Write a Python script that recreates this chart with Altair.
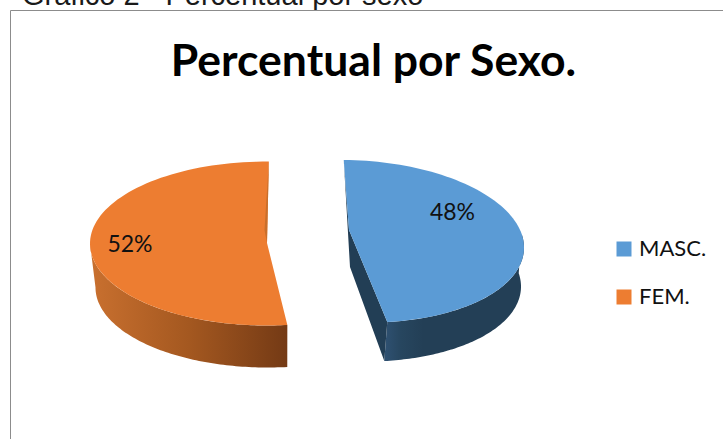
import math
import altair as alt

# Chart content
categories = ["MASC.", "FEM."]
shares = [48, 52]
top_colors = ["#5B9BD5", "#ED7D31"]
chart_title = "Percentual por Sexo."
caption = "Gráfico 2 - Percentual por sexo"

W, H = 723, 439
START_ANGLE = 0.6


def ellipse_point(t, cx, cy, rx, ry, shear=0.0):
    """Point on a tilted pie rim; t is in degrees, clockwise from the top."""
    a = math.radians(t)
    dy = -ry * math.cos(a)
    return [cx + rx * math.sin(a) + shear * dy, cy + dy]


def arc(t0, t1, rim, n=90):
    return [ellipse_point(t0 + (t1 - t0) * i / n, *rim) for i in range(n + 1)]


def feature(points, sex=None):
    ring = points + [points[0]]
    return {
        "type": "Feature",
        "properties": {"sex": sex},
        "geometry": {"type": "Polygon", "coordinates": [ring]},
    }


# Slice spans follow the shares
masc_t0 = START_ANGLE
masc_t1 = masc_t0 + shares[0] * 3.6
fem_t0 = masc_t1
fem_t1 = fem_t0 + shares[1] * 3.6

# Rim ellipses of both exploded slices, upper face and lower edge
masc_top = (355, 241.3, 168.5, 81.3, 0.16)
masc_low = (352, 280.3, 168.5, 81.3, 0.16)
fem_top = (267, 243.5, 177, 82, 0.0)
fem_low = (267.5, 287.5, 172, 80, 0.0)

MASC_APEX = [349, 230]
FEM_APEX = [267, 243]


def gradient(x1, x2, stops):
    return alt.LinearGradient(
        gradient="linear",
        x1=x1, x2=x2, y1=0, y2=0,
        stops=[alt.GradientStop(offset=o, color=c) for o, c in stops],
    )


def shape(features, fill):
    return (
        alt.Chart(alt.Data(values=features))
        .mark_geoshape(fill=fill, strokeWidth=0)
        .project(type="identity", scale=1, translate=[0, 0])
    )


# Curved outer walls
masc_wall = shape(
    [feature(arc(85, masc_t1, masc_top) + arc(masc_t1, 85, masc_low))],
    gradient(1, 0, [(0, "#233F56"), (0.72, "#233F56"), (0.88, "#27465F"), (1, "#2F5172")]),
)
fem_wall = shape(
    [feature(arc(270, fem_t0, fem_top) + arc(fem_t0, 270, fem_low))],
    gradient(0, 1, [(0, "#C9702F"), (0.5, "#A45820"), (1, "#743A15")]),
)

# Inner cut faces that stay visible beside the upper faces
masc_cut = shape(
    [feature([
        ellipse_point(masc_t0, *masc_top),
        MASC_APEX,
        ellipse_point(masc_t1, *masc_top),
        ellipse_point(masc_t1, *masc_low),
        [350, 267],
    ])],
    "#223E55",
)
fem_cut = shape(
    [feature([ellipse_point(fem_t1, *fem_top), FEM_APEX, [264.5, 230]])],
    "#C96F2B",
)

# Upper faces carry the colour legend
faces = [
    feature([MASC_APEX] + arc(masc_t0, masc_t1, masc_top), categories[0]),
    feature([FEM_APEX] + arc(fem_t0, fem_t1, fem_top), categories[1]),
]
upper = (
    alt.Chart(alt.Data(values=faces))
    .mark_geoshape(strokeWidth=0)
    .project(type="identity", scale=1, translate=[0, 0])
    .encode(
        color=alt.Color(
            "properties.sex:N",
            scale=alt.Scale(domain=categories, range=top_colors),
            legend=alt.Legend(
                title=None,
                orient="none",
                legendX=613,
                legendY=238,
                symbolType="square",
                symbolSize=225,
                symbolStrokeWidth=0,
                labelFont="Lato",
                labelFontSize=22,
                labelColor="#111111",
                labelOffset=4,
                rowPadding=26,
                labelLimit=120,
            ),
        )
    )
)

x_scale = alt.Scale(domain=[0, W], nice=False, zero=False)
y_scale = alt.Scale(domain=[0, H], nice=False, zero=False, reverse=True)


def text_layer(rows, **mark):
    return (
        alt.Chart(alt.Data(values=rows))
        .mark_text(**mark)
        .encode(
            x=alt.X("x:Q", scale=x_scale, axis=None),
            y=alt.Y("y:Q", scale=y_scale, axis=None),
            text="label:N",
        )
    )


# Value labels are written from the shares
percent_labels = text_layer(
    [
        {"x": 452.5, "y": 220, "label": f"{shares[0]}%"},
        {"x": 130, "y": 252, "label": f"{shares[1]}%"},
    ],
    font="Lato", fontSize=23, color="#111111", align="center", baseline="alphabetic",
)
caption_text = text_layer(
    [{"x": 22, "y": 5, "label": caption}],
    font="Liberation Sans", fontSize=29, color="#1A1A1A", align="left", baseline="alphabetic",
)
title_text = text_layer(
    [{"x": 373.5, "y": 76, "label": chart_title}],
    font="Lato", fontSize=44.5, fontWeight="bold", color="#000000", align="center", baseline="alphabetic",
)

# Chart frame, white so the caption's descenders stop at its edge
frame_bg = (
    alt.Chart(alt.Data(values=[{"a": 0}]))
    .mark_rect(color="white", stroke="#8C8C8C", strokeWidth=1)
    .encode(x=alt.value(10.5), x2=alt.value(W + 5), y=alt.value(10.5), y2=alt.value(H + 5))
)

chart = (
    alt.layer(
        caption_text,
        frame_bg,
        masc_wall,
        fem_wall,
        masc_cut,
        upper,
        fem_cut,
        percent_labels,
        title_text,
    )
    .properties(
        width=W,
        height=H,
        padding=0,
        autosize=alt.AutoSizeParams(type="none"),
        background="white",
    )
    .configure_view(stroke=None)
)

chart.save("out.html", embed_options={"renderer": "svg", "actions": False})
